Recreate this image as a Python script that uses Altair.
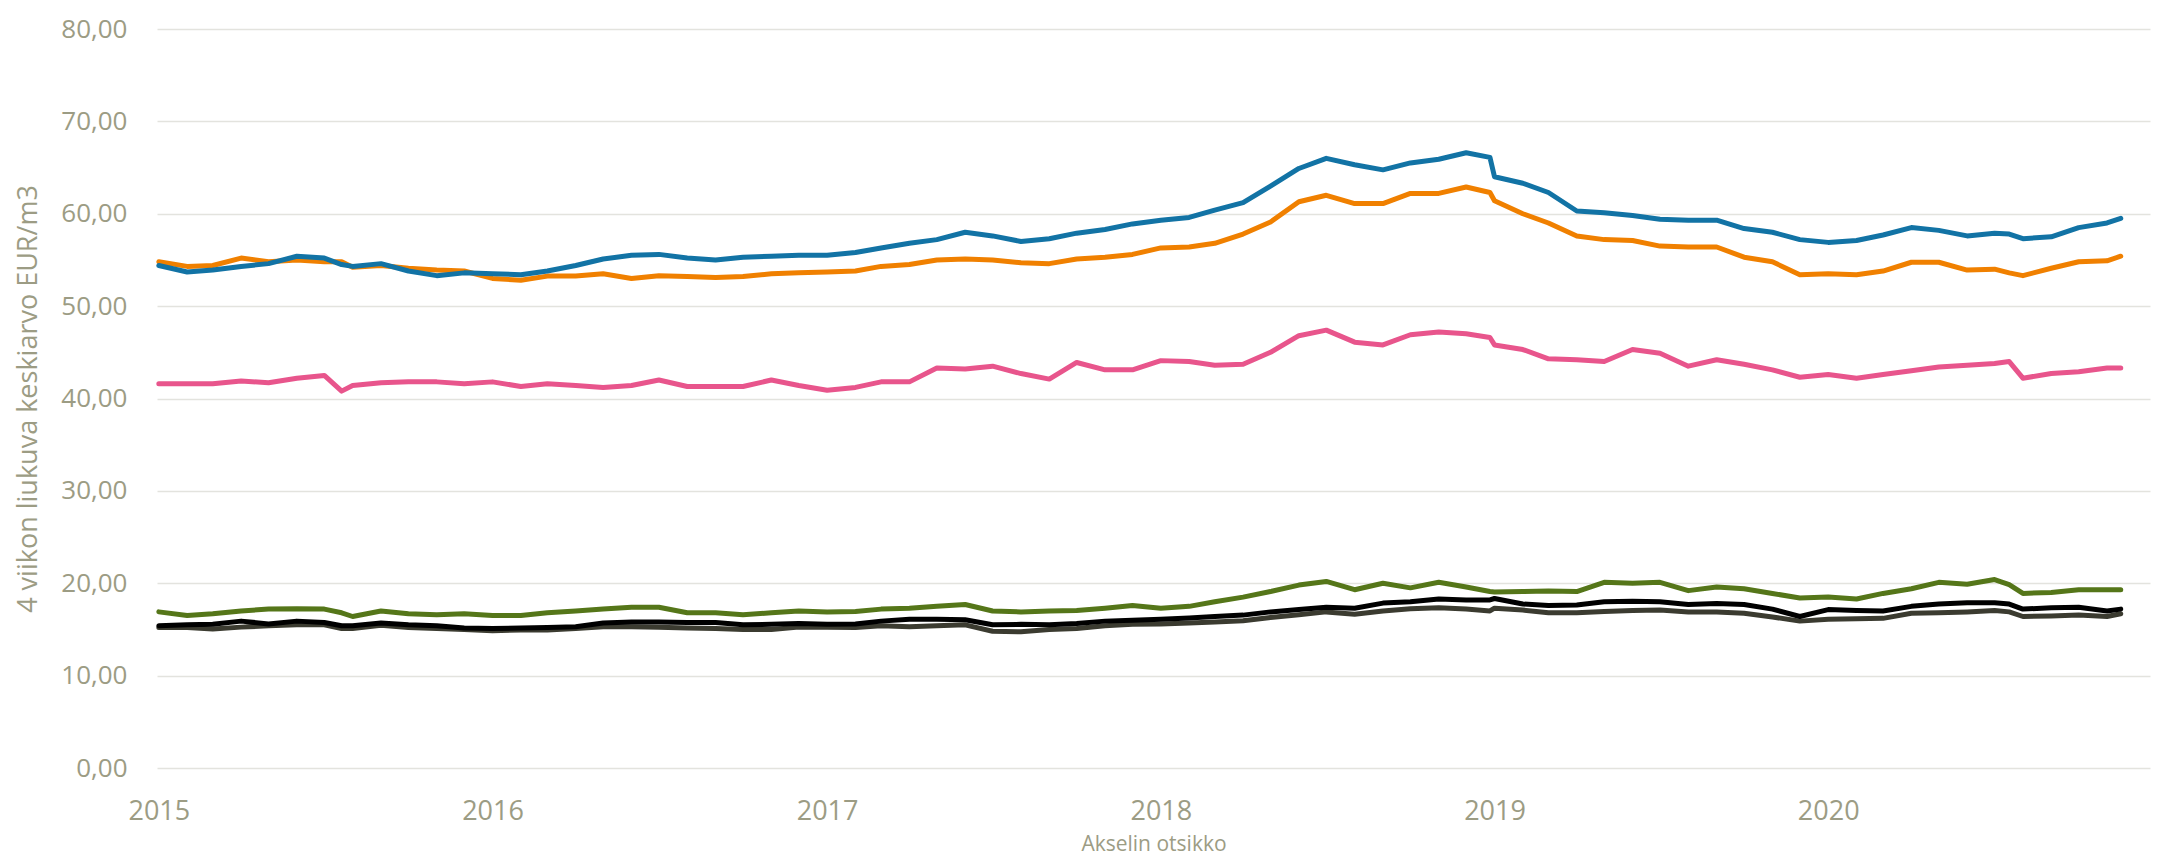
import altair as alt
import pandas as pd

# Monthly sample dates (first of month, Jan 2015 .. Nov 2020) plus the last data point
dates = [f"{2015 + m // 12}-{m % 12 + 1:02d}-01" for m in range(71)] + ["2020-11-16"]
# a few extra dates where the lines turn sharply
extra_dates = ["2015-07-20", "2018-12-27", "2020-07-17"]

blue = [54.4, 53.7, 53.9, 54.3, 54.6, 55.4, 55.2, 54.3, 54.6, 53.8, 53.3, 53.6,
        53.5, 53.4, 53.8, 54.4, 55.1, 55.5, 55.6, 55.2, 55.0, 55.3, 55.4, 55.5,
        55.5, 55.8, 56.3, 56.8, 57.2, 58.0, 57.6, 57.0, 57.3, 57.9, 58.3, 58.9,
        59.3, 59.6, 60.4, 61.2, 63.0, 64.9, 66.0, 65.3, 64.75, 65.5, 65.9, 66.6,
        64.0, 63.3, 62.3, 60.3, 60.1, 59.8, 59.4, 59.3, 59.3, 58.4, 58.0, 57.2,
        56.9, 57.1, 57.7, 58.5, 58.2, 57.6, 57.9, 57.3, 57.5, 58.5, 59.0,
        59.5]
blue_extra = [54.5, 66.1, 57.8]
orange = [54.8, 54.3, 54.4, 55.2, 54.8, 55.0, 54.8, 54.2, 54.4, 54.1, 53.9, 53.8,
          53.0, 52.8, 53.25, 53.25, 53.5, 53.0, 53.3, 53.2, 53.1, 53.2, 53.5, 53.6,
          53.7, 53.8, 54.3, 54.5, 55.0, 55.1, 55.0, 54.7, 54.6, 55.1, 55.3, 55.6,
          56.3, 56.4, 56.8, 57.8, 59.1, 61.3, 62.0, 61.1, 61.1, 62.2, 62.2, 62.9,
          61.4, 60.0, 59.0, 57.6, 57.2, 57.1, 56.5, 56.4, 56.4, 55.3, 54.8, 53.4,
          53.5, 53.4, 53.8, 54.75, 54.75, 53.9, 54.0, 53.3, 54.1, 54.8, 54.9,
          55.4]
orange_extra = [54.8, 62.3, 53.6]
pink = [41.6, 41.6, 41.6, 41.9, 41.7, 42.2, 42.5, 41.4, 41.7, 41.8, 41.8, 41.6,
        41.8, 41.3, 41.6, 41.4, 41.2, 41.4, 42.0, 41.3, 41.3, 41.3, 42.0, 41.4,
        40.9, 41.2, 41.8, 41.8, 43.3, 43.2, 43.5, 42.7, 42.1, 43.9, 43.1, 43.1,
        44.1, 44.0, 43.6, 43.7, 45.0, 46.8, 47.4, 46.1, 45.8, 46.9, 47.2, 47.0,
        45.8, 45.3, 44.3, 44.2, 44.0, 45.3, 44.9, 43.5, 44.2, 43.7, 43.1, 42.3,
        42.6, 42.2, 42.6, 43.0, 43.4, 43.6, 43.8, 42.2, 42.7, 42.9, 43.3,
        43.3]
pink_extra = [40.8, 46.6, 44.0]
green = [16.9, 16.5, 16.7, 17.0, 17.2, 17.25, 17.2, 16.4, 17.0, 16.7, 16.6, 16.7,
         16.5, 16.5, 16.8, 17.0, 17.2, 17.4, 17.4, 16.8, 16.8, 16.6, 16.8, 17.0,
         16.9, 16.95, 17.2, 17.3, 17.5, 17.7, 17.0, 16.9, 17.0, 17.05, 17.3, 17.6,
         17.3, 17.5, 18.0, 18.5, 19.1, 19.8, 20.2, 19.3, 20.0, 19.5, 20.1, 19.6,
         19.05, 19.1, 19.15, 19.1, 20.1, 20.0, 20.1, 19.2, 19.6, 19.4, 18.9, 18.4,
         18.5, 18.3, 18.9, 19.4, 20.1, 19.9, 20.4, 18.9, 19.0, 19.3, 19.3,
         19.3]
green_extra = [16.8, 19.1, 19.85]
black = [15.4, 15.5, 15.55, 15.9, 15.6, 15.9, 15.75, 15.4, 15.7, 15.5, 15.4, 15.15,
         15.1, 15.15, 15.2, 15.3, 15.7, 15.8, 15.8, 15.75, 15.75, 15.5, 15.55, 15.65,
         15.55, 15.6, 15.9, 16.1, 16.1, 16.05, 15.5, 15.55, 15.5, 15.65, 15.9, 16.0,
         16.1, 16.25, 16.4, 16.55, 16.9, 17.15, 17.4, 17.3, 17.85, 18.0, 18.3, 18.2,
         18.35, 17.75, 17.6, 17.65, 18.0, 18.05, 18.0, 17.7, 17.8, 17.7, 17.2, 16.4,
         17.15, 17.05, 17.0, 17.5, 17.75, 17.9, 17.9, 17.2, 17.35, 17.4, 17.0,
         17.2]
black_extra = [15.4, 18.2, 17.75]
darkgray = [15.2, 15.2, 15.05, 15.25, 15.4, 15.5, 15.5, 15.1, 15.45, 15.2, 15.1, 15.0,
            14.85, 14.95, 14.95, 15.1, 15.3, 15.3, 15.25, 15.15, 15.1, 15.0, 15.0, 15.25,
            15.25, 15.2, 15.4, 15.3, 15.4, 15.5, 14.8, 14.75, 15.0, 15.1, 15.4, 15.55,
            15.6, 15.7, 15.8, 15.95, 16.3, 16.6, 16.9, 16.65, 17.0, 17.25, 17.35, 17.2,
            17.3, 17.1, 16.8, 16.8, 16.95, 17.05, 17.1, 16.9, 16.9, 16.75, 16.35, 15.9,
            16.1, 16.15, 16.2, 16.75, 16.8, 16.9, 17.05, 16.4, 16.45, 16.55, 16.4,
            16.7]
darkgray_extra = [15.1, 17.0, 16.9]

year_ticks = [2015, 2016, 2017, 2018, 2019, 2020]
y_ticks = [0, 10, 20, 30, 40, 50, 60, 70, 80]

# drawing order: first is at the back
series = [
    ("Sarja 6", darkgray, darkgray_extra, "#3B3B30"),
    ("Sarja 5", black, black_extra, "#000000"),
    ("Sarja 4", green, green_extra, "#557619"),
    ("Sarja 3", pink, pink_extra, "#E8558C"),
    ("Sarja 2", orange, orange_extra, "#F08000"),
    ("Sarja 1", blue, blue_extra, "#1273A5"),
]

LABEL = "#9C9C84"
FONT = "Open Sans"
W, H = 1993, 739

x_enc = alt.X(
    "pvm:T",
    scale=alt.Scale(type="utc",
                    domain=[alt.DateTime(year=2014, month=12, date=30, utc=True),
                            alt.DateTime(year=2020, month=12, date=18, utc=True)]),
    axis=alt.Axis(
        values=[alt.DateTime(year=y, month=1, date=1, utc=True) for y in year_ticks],
        format="%Y", formatType="utc",
        grid=False, domain=False, ticks=False, tickSize=0,
        labelPadding=30, labelFont=FONT, labelFontSize=27, labelColor=LABEL,
        title="Akselin otsikko", titleFont=FONT, titleFontSize=21,
        titleFontWeight="normal", titleColor=LABEL,
        titleX=W / 2, titleY=82, titleAlign="center", titleBaseline="alphabetic",
    ),
)
y_enc = alt.Y(
    "arvo:Q",
    scale=alt.Scale(domain=[0, 80]),
    axis=alt.Axis(
        values=y_ticks,
        labelExpr="replace(format(datum.value, '.2f'), '.', ',')",
        grid=True, gridColor="#E3E3DE", gridWidth=1.5,
        domain=False, ticks=False, tickSize=0,
        labelPadding=30, labelFont=FONT, labelFontSize=26, labelColor=LABEL,
        title="4 viikon liukuva keskiarvo EUR/m3", titleFont=FONT, titleFontSize=27,
        titleFontWeight="normal", titleColor=LABEL, titleAngle=270,
        titleX=-121, titleY=H / 2, titleAlign="center", titleBaseline="alphabetic",
    ),
)

layers = []
for name, vals, extra, col in series:
    df = pd.DataFrame({"pvm": dates + extra_dates, "arvo": vals + extra, "sarja": name})
    df = df.sort_values("pvm").reset_index(drop=True)
    layers.append(
        alt.Chart(df).mark_line(color=col, strokeWidth=5, strokeCap="round",
                                strokeJoin="round").encode(x=x_enc, y=y_enc)
    )

chart = alt.layer(*layers).properties(
    width=W, height=H,
    autosize=alt.AutoSizeParams(type="none"),
    padding={"left": 149, "top": 21, "right": 10, "bottom": 88},
).configure_view(stroke=None)

chart.save("out.html", embed_options={"renderer": "svg", "actions": False})
